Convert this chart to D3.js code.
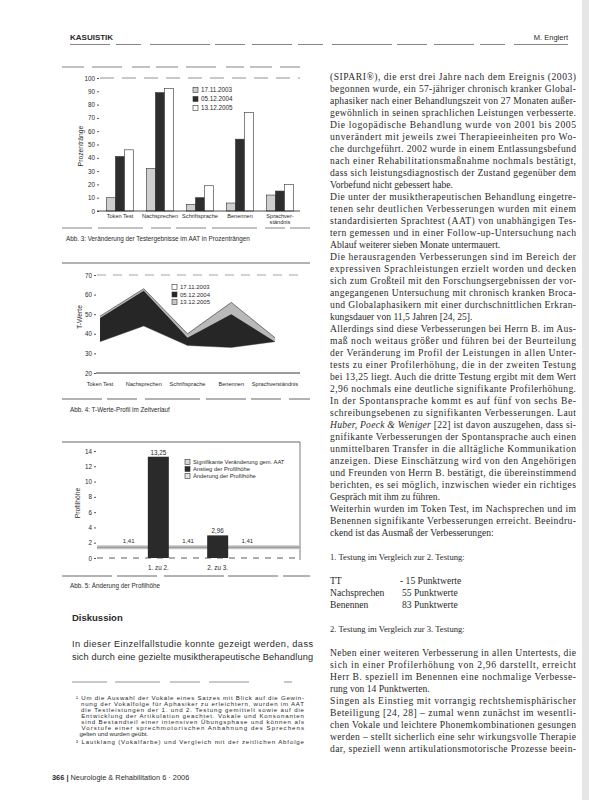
<!DOCTYPE html>
<html><head><meta charset="utf-8">
<script src="https://cdn.jsdelivr.net/npm/d3@7"></script>
<style>
html,body{margin:0;padding:0;background:#fff;}
svg{display:block;}
</style></head><body>
<svg id="page" width="589" height="800"></svg>
<script>
// ---------- data ----------
const aatCategories = ["Token Test","Nachsprechen","Schriftsprache","Benennen","Sprachverständnis"];
const aatLabels = [["Token Test"],["Nachsprechen"],["Schriftsprache"],["Benennen"],["Sprachver-","ständnis"]];
const testDates = ["17.11.2003","05.12.2004","13.12.2005"];
const prTest1 = [10, 32, 5, 6, 12];
const prTest2 = [41, 89, 10, 54, 15];
const prTest3 = [46, 92, 19, 74, 20];
const prTicks = [0,10,20,30,40,50,60,70,80,90,100];
const tTest1 = [36, 44, 34, 33, 36];
const tTest2 = [48, 62, 38, 50, 36];
const tTest3 = [49, 63, 40, 56, 38];
const tTicks = [20,30,40,50,60,70];
const profileLabels = ["", "1. zu 2.", "2. zu 3.", ""];
const profileValues = [null, 13.25, 2.96, null];
const significanceValue = 1.41;
const profileTicks = [0,2,4,6,8,10,12,14];
const profileLegend = ["Signifikante Veränderung gem. AAT","Anstieg der Profilhöhe","Änderung der Profilhöhe"];

// ---------- page ----------
const SANS = "'Liberation Sans', Arial, sans-serif";
const SERIF = "'Liberation Serif', 'Times New Roman', serif";
const INK = "#2a2a2a";
const svg = d3.select("#page");
svg.append("rect").attr("width",589).attr("height",800).attr("fill","#fff");
svg.append("rect").attr("x",582).attr("y",0).attr("width",7).attr("height",800).attr("fill","#e6e6e6");

function rule(y, x0, x1, dash, col, w) {
  svg.append("line").attr("x1",x0).attr("x2",x1).attr("y1",y).attr("y2",y)
    .attr("stroke",col||"#555").attr("stroke-width",w||0.8)
    .attr("stroke-dasharray",dash||null);
}

// header
svg.append("text").attr("x",70).attr("y",39.5).attr("font-family",SANS).attr("font-size",8)
  .attr("font-weight","bold").attr("fill",INK).text("KASUISTIK");
svg.append("text").attr("x",568).attr("y",39.5).attr("text-anchor","end").attr("font-family",SANS)
  .attr("font-size",7.5).attr("fill",INK).text("M. Englert");
rule(44.5, 70, 568, "40 6 25 9 60 5 30 7", "#666", 0.8);

// ---------- Chart 1: Prozentränge ----------
const g1 = svg.append("g");
rule(67, 62, 300, "22 8 30 10 18 6", "#666", 0.8);
const x1 = d3.scaleBand().domain(aatCategories).range([100,300]).paddingInner(0.32).paddingOuter(0.16);
const xs1 = d3.scaleBand().domain([0,1,2]).range([0, x1.bandwidth()]);
const y1 = d3.scaleLinear().domain([0,100]).range([211,78]);
g1.append("line").attr("x1",100).attr("x2",300).attr("y1",y1(100)).attr("y2",y1(100))
  .attr("stroke","#777").attr("stroke-width",0.8).attr("stroke-dasharray","14 8");
const ax1 = g1.append("g").attr("transform","translate(99,0)")
  .call(d3.axisLeft(y1).tickValues(prTicks).tickSize(2).tickPadding(2));
ax1.select(".domain").remove();
ax1.selectAll("text").attr("font-family",SANS).attr("font-size",6.3).attr("fill",INK);
ax1.selectAll("line").attr("stroke","#555");
const prSeries = [prTest1, prTest2, prTest3];
const barFill = ["#cfcfcf","#2e2e2e","#ffffff"];
prSeries.forEach((s,si)=>{
  g1.selectAll(null).data(s).enter().append("rect")
    .attr("x",(d,i)=>x1(aatCategories[i]) + xs1(si))
    .attr("width",xs1.bandwidth())
    .attr("y",d=>y1(d))
    .attr("height",d=>y1(0)-y1(d))
    .attr("fill",barFill[si]).attr("stroke","#333").attr("stroke-width",0.6);
});
g1.append("line").attr("x1",97).attr("x2",300).attr("y1",y1(0)).attr("y2",y1(0)).attr("stroke","#222").attr("stroke-width",0.8);
aatLabels.forEach((lab,i)=>{
  const cx = x1(aatCategories[i]) + x1.bandwidth()/2;
  const t = g1.append("text").attr("x",cx).attr("y",217.5)
    .attr("text-anchor","middle").attr("font-family",SANS).attr("font-size",5.6).attr("fill",INK);
  lab.forEach((l,k)=>t.append("tspan").attr("x",cx).attr("dy",k?6.5:0).text(l));
});
g1.append("text").attr("transform","translate(83,146) rotate(-90)").attr("text-anchor","middle")
  .attr("font-family",SANS).attr("font-size",6.8).attr("fill",INK).text("Prozentränge");
testDates.forEach((d,i)=>{
  g1.append("rect").attr("x",193).attr("y",87.5+i*9).attr("width",5).attr("height",5)
    .attr("fill",barFill[i]).attr("stroke","#333").attr("stroke-width",0.6);
  g1.append("text").attr("x",201).attr("y",92.3+i*9).attr("font-family",SANS).attr("font-size",6.3)
    .attr("fill",INK).text(d);
});
rule(228, 62, 310, "30 6 45 8 20 5", "#666", 0.8);
svg.append("text").attr("x",66).attr("y",240.5).attr("font-family",SANS).attr("font-size",6.3).attr("fill",INK)
  .text("Abb. 3: Veränderung der Testergebnisse im AAT in Prozenträngen");

// ---------- Chart 2: T-Werte ----------
const g2 = svg.append("g");
rule(263, 62, 310, null, "#555", 0.9);
const x2 = d3.scalePoint().domain(aatCategories).range([100,275]);
const y2 = d3.scaleLinear().domain([20,70]).range([373,275]);
g2.append("line").attr("x1",97).attr("x2",300).attr("y1",y2(70)).attr("y2",y2(70))
  .attr("stroke","#999").attr("stroke-width",0.9).attr("stroke-dasharray","9 7");
const area2 = d3.area().x((d,i)=>x2(aatCategories[i])).y0(y2(20)).y1(d=>y2(d));
const line2 = d3.line().x((d,i)=>x2(aatCategories[i])).y(d=>y2(d));
g2.append("path").attr("d",area2(tTest3)).attr("fill","#b9b9b9");
g2.append("path").attr("d",line2(tTest3)).attr("fill","none").attr("stroke","#555").attr("stroke-width",0.8);
g2.append("path").attr("d",area2(tTest2)).attr("fill","#262626");
g2.append("path").attr("d",area2(tTest1)).attr("fill","#ffffff");
g2.append("path").attr("d",line2(tTest1)).attr("fill","none").attr("stroke","#444").attr("stroke-width",0.4);
const ax2 = g2.append("g").attr("transform","translate(96,0)")
  .call(d3.axisLeft(y2).tickValues(tTicks).tickSize(2).tickPadding(2));
ax2.select(".domain").remove();
ax2.selectAll("text").attr("font-family",SANS).attr("font-size",6.3).attr("fill",INK);
ax2.selectAll("line").attr("stroke","#555");
g2.append("line").attr("x1",96).attr("x2",300).attr("y1",y2(20)).attr("y2",y2(20)).attr("stroke","#222").attr("stroke-width",0.9);
aatCategories.forEach(c=>{
  g2.append("text").attr("x",x2(c)).attr("y",385.5).attr("text-anchor","middle")
    .attr("font-family",SANS).attr("font-size",5.6).attr("fill",INK).text(c);
});
g2.append("text").attr("transform","translate(82,317) rotate(-90)").attr("text-anchor","middle")
  .attr("font-family",SANS).attr("font-size",6.8).attr("fill",INK).text("T-Werte");
const legFill2 = ["#ffffff","#262626","#c8c8c8"];
testDates.forEach((d,i)=>{
  g2.append("rect").attr("x",172).attr("y",284.5+i*7.5).attr("width",5).attr("height",5)
    .attr("fill",legFill2[i]).attr("stroke","#333").attr("stroke-width",0.6);
  g2.append("text").attr("x",180).attr("y",289+i*7.5).attr("font-family",SANS).attr("font-size",6)
    .attr("fill",INK).text(d);
});
rule(399, 62, 310, "40 5 30 8 55 6", "#555", 0.9);
svg.append("text").attr("x",70).attr("y",411.5).attr("font-family",SANS).attr("font-size",6.3).attr("fill",INK)
  .text("Abb. 4: T-Werte-Profil im Zeitverlauf");

// ---------- Chart 3: Profilhöhe ----------
const g3 = svg.append("g");
rule(442, 62, 300, null, "#555", 0.9);
g3.append("line").attr("x1",300).attr("x2",300).attr("y1",442).attr("y2",560).attr("stroke","#555").attr("stroke-width",0.8);
const x3 = d3.scaleLinear().domain([0,3]).range([99,277]);
const y3 = d3.scaleLinear().domain([0,14]).range([558,451]);
const ax3 = g3.append("g").attr("transform","translate(96,0)")
  .call(d3.axisLeft(y3).tickValues(profileTicks).tickSize(2).tickPadding(2));
ax3.select(".domain").remove();
ax3.selectAll("text").attr("font-family",SANS).attr("font-size",6.3).attr("fill",INK);
ax3.selectAll("line").attr("stroke","#555");
g3.append("line").attr("x1",97).attr("x2",300).attr("y1",y3(significanceValue)).attr("y2",y3(significanceValue))
  .attr("stroke","#c6c6c6").attr("stroke-width",4);
g3.append("line").attr("x1",97).attr("x2",300).attr("y1",y3(significanceValue)).attr("y2",y3(significanceValue))
  .attr("stroke","#666").attr("stroke-width",0.6);
g3.append("line").attr("x1",97).attr("x2",300).attr("y1",y3(0)).attr("y2",y3(0))
  .attr("stroke","#333").attr("stroke-width",0.8).attr("stroke-dasharray","6 6");
const fmt = v => d3.format(".2f")(v).replace(".",",");
[0.5,1.5,2.5].forEach(p=>{
  g3.append("text").attr("x",x3(p)).attr("y",y3(significanceValue)-4).attr("text-anchor","middle")
    .attr("font-family",SANS).attr("font-size",6).attr("fill",INK).text(fmt(significanceValue));
});
profileValues.forEach((v,i)=>{
  if (v === null) return;
  g3.append("rect").attr("x",x3(i)-10.5).attr("width",21).attr("y",y3(v)).attr("height",y3(0)-y3(v))
    .attr("fill","#2a2a2a");
  g3.append("text").attr("x",x3(i)).attr("y",y3(v)-2).attr("text-anchor","middle")
    .attr("font-family",SANS).attr("font-size",6.3).attr("fill",INK).text(fmt(v));
});
profileLabels.forEach((l,i)=>{
  g3.append("text").attr("x",x3(i)).attr("y",570).attr("text-anchor","middle")
    .attr("font-family",SANS).attr("font-size",6.3).attr("fill",INK).text(l);
});
g3.append("text").attr("transform","translate(80,503) rotate(-90)").attr("text-anchor","middle")
  .attr("font-family",SANS).attr("font-size",6.8).attr("fill",INK).text("Profilhöhe");
const legFill3 = ["#d6d6d6","#2a2a2a","#e4e4e4"];
profileLegend.forEach((d,i)=>{
  g3.append("rect").attr("x",185).attr("y",459.5+i*7).attr("width",5).attr("height",5)
    .attr("fill",legFill3[i]).attr("stroke","#333").attr("stroke-width",0.6);
  g3.append("text").attr("x",193).attr("y",464+i*7).attr("font-family",SANS).attr("font-size",5.8)
    .attr("fill",INK).text(d);
});
rule(576, 62, 310, "50 5 40 7 60 4", "#555", 0.9);
svg.append("text").attr("x",70).attr("y",587.5).attr("font-family",SANS).attr("font-size",6.3).attr("fill",INK)
  .text("Abb. 5: Änderung der Profilhöhe");

// ---------- text blocks ----------
function textBlock(items, x, y0, lh, w, family, size) {
  items.forEach((it,i)=>{
    if (!it) return;
    if (it.cols) {
      it.cols.forEach(c=>svg.append("text").attr("x",x+c[1]).attr("y",y0+i*lh)
        .attr("font-family",family).attr("font-size",it.size||size).attr("fill",INK).text(c[0]));
      return;
    }
    const t = svg.append("text").attr("x",x).attr("y",y0+i*lh)
      .attr("font-family",family).attr("font-size",it.size||size).attr("fill",INK)
      .attr("font-weight",it.b?"bold":null);
    if (it.parts) it.parts.forEach(p=>t.append("tspan").attr("font-style",p.i?"italic":null).text(p.t));
    else t.text(it.t);
    if (it.j) t.attr("textLength",w).attr("lengthAdjust","spacing");
  });
}
function para(lines, lastJ) {
  return lines.map((l,i)=>{
    const o = (typeof l === "string") ? {t:l} : l;
    o.j = (i < lines.length-1) || !!lastJ;
    return o;
  });
}
const rightItems = [].concat(
  para(["(SIPARI®), die erst drei Jahre nach dem Ereignis (2003)",
        "begonnen wurde, ein 57-jähriger chronisch kranker Global-",
        "aphasiker nach einer Behandlungszeit von 27 Monaten außer-",
        "gewöhnlich in seinen sprachlichen Leistungen verbesserte."], true),
  para(["Die logopädische Behandlung wurde von 2001 bis 2005",
        "unverändert mit jeweils zwei Therapieeinheiten pro Wo-",
        "che durchgeführt. 2002 wurde in einem Entlassungsbefund",
        "nach einer Rehabilitationsmaßnahme nochmals bestätigt,",
        "dass sich leistungsdiagnostisch der Zustand gegenüber dem",
        "Vorbefund nicht gebessert habe."]),
  para(["Die unter der musiktherapeutischen Behandlung eingetre-",
        "tenen sehr deutlichen Verbesserungen wurden mit einem",
        "standardisierten Sprachtest (AAT) von unabhängigen Tes-",
        "tern gemessen und in einer Follow-up-Untersuchung nach",
        "Ablauf weiterer sieben Monate untermauert."]),
  para(["Die herausragenden Verbesserungen sind im Bereich der",
        "expressiven Sprachleistungen erzielt worden und decken",
        "sich zum Großteil mit den Forschungsergebnissen der vor-",
        "angegangenen Untersuchung mit chronisch kranken Broca-",
        "und Globalaphasikern mit einer durchschnittlichen Erkran-",
        "kungsdauer von 11,5 Jahren [24, 25]."]),
  para(["Allerdings sind diese Verbesserungen bei Herrn B. im Aus-",
        "maß noch weitaus größer und führen bei der Beurteilung",
        "der Veränderung im Profil der Leistungen in allen Unter-",
        "tests zu einer Profilerhöhung, die in der zweiten Testung",
        "bei 13,25 liegt. Auch die dritte Testung ergibt mit dem Wert",
        "2,96 nochmals eine deutliche signifikante Profilerhöhung."], true),
  para(["In der Spontansprache kommt es auf fünf von sechs Be-",
        "schreibungsebenen zu signifikanten Verbesserungen. Laut",
        {parts:[{t:"Huber, Poeck & Weniger",i:true},{t:" [22] ist davon auszugehen, dass si-"}]},
        "gnifikante Verbesserungen der Spontansprache auch einen",
        "unmittelbaren Transfer in die alltägliche Kommunikation",
        "anzeigen. Diese Einschätzung wird von den Angehörigen",
        "und Freunden von Herrn B. bestätigt, die übereinstimmend",
        "berichten, es sei möglich, inzwischen wieder ein richtiges",
        "Gespräch mit ihm zu führen."]),
  para(["Weiterhin wurden im Token Test, im Nachsprechen und im",
        "Benennen signifikante Verbesserungen erreicht. Beeindru-",
        "ckend ist das Ausmaß der Verbesserungen:"]),
  [null, {t:"1. Testung im Vergleich zur 2. Testung:", size:8.6}, null,
   {cols:[["TT",0],["- 15 Punktwerte",70]]},
   {cols:[["Nachsprechen",0],["55 Punktwerte",72]]},
   {cols:[["Benennen",0],["83 Punktwerte",72]]},
   null, {t:"2. Testung im Vergleich zur 3. Testung:", size:8.6}, null],
  para(["Neben einer weiteren Verbesserung in allen Untertests, die",
        "sich in einer Profilerhöhung von 2,96 darstellt, erreicht",
        "Herr B. speziell im Benennen eine nochmalige Verbesse-",
        "rung von 14 Punktwerten."]),
  para(["Singen als Einstieg mit vorrangig rechtshemisphärischer",
        "Beteiligung [24, 28] – zumal wenn zunächst im wesentli-",
        "chen Vokale und leichtere Phonemkombinationen gesungen",
        "werden – stellt sicherlich eine sehr wirkungsvolle Therapie",
        "dar, speziell wenn artikulationsmotorische Prozesse beein-"], true)
);
textBlock(rightItems, 330, 79.5, 12, 246, SERIF, 9.6);

// left column: Diskussion
svg.append("text").attr("x",72).attr("y",620.5).attr("font-family",SANS).attr("font-size",9.5)
  .attr("font-weight","bold").attr("fill",INK).text("Diskussion");
textBlock(para(["In dieser Einzelfallstudie konnte gezeigt werden, dass",
                "sich durch eine gezielte musiktherapeutische Behandlung"], true),
          72, 646.5, 13, 241, SANS, 9.2);

rule(682, 72, 313, "35 8 45 10 30 9 40", "#777", 0.8);
const foot = [
  {t:"¹ Um die Auswahl der Vokale eines Satzes mit Blick auf die Gewin-", j:true},
  {t:"  nung der Vokalfolge für Aphasiker zu erleichtern, wurden im AAT", j:true},
  {t:"  die Testleistungen der 1. und 2. Testung gemittelt sowie auf die", j:true},
  {t:"  Entwicklung der Artikulation geachtet. Vokale und Konsonanten", j:true},
  {t:"  sind Bestandteil einer intensiven Übungsphase und können als", j:true},
  {t:"  Vorstufe einer sprechmotorischen Anbahnung des Sprechens", j:true},
  {t:"  gelten und wurden geübt."},
  {t:"² Lautklang (Vokalfarbe) und Vergleich mit der zeitlichen Abfolge", j:true}
];
foot.forEach((f,i)=>{
  const y = 700 + i*6 + (i===7?2:0);
  const t = svg.append("text").attr("x",76).attr("y",y).attr("font-family",SANS).attr("font-size",6.1)
    .attr("fill",INK).attr("xml:space","preserve").text(f.t);
  if (f.j) t.attr("textLength",228).attr("lengthAdjust","spacing");
});

// footer
const ft = svg.append("text").attr("x",52).attr("y",779.5).attr("font-family",SANS).attr("font-size",7.4).attr("fill",INK);
ft.append("tspan").attr("font-weight","bold").text("366 | ");
ft.append("tspan").text("Neurologie & Rehabilitation 6 · 2006");
</script>
</body></html>
